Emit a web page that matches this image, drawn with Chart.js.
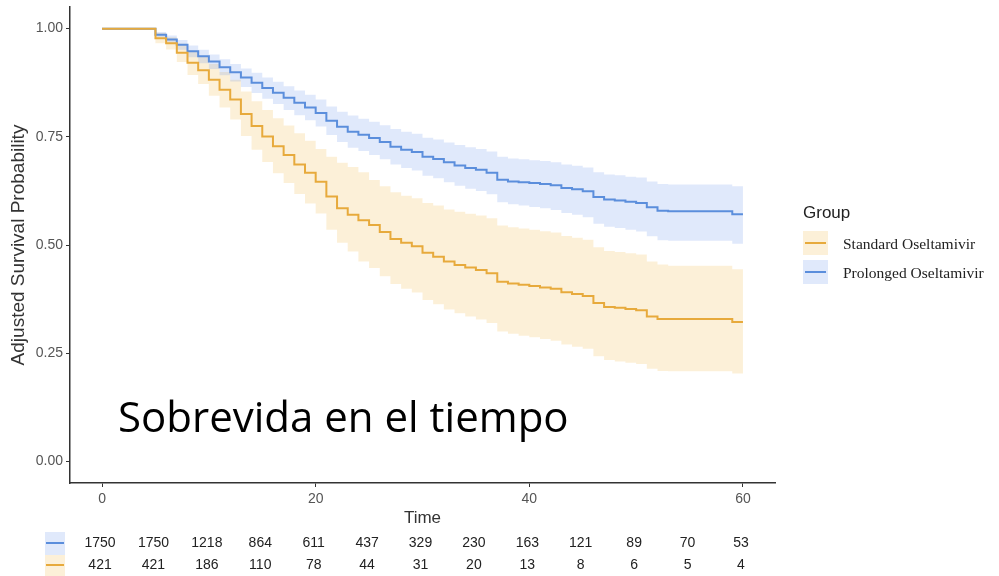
<!DOCTYPE html>
<html lang="es">
<head>
<meta charset="utf-8">
<title>Sobrevida en el tiempo</title>
<script src="https://cdn.jsdelivr.net/npm/chart.js@4.4.1/dist/chart.umd.min.js"></script>
<style>
  html, body { margin: 0; padding: 0; background: #fff; }
  #grafico { display: block; }
</style>
</head>
<body>
<canvas id="grafico" width="999" height="576"></canvas>
<script>
"use strict";
// Datos (tiempo 0, luego 5..60)
const tiempos = [0, 5, 6, 7, 8, 9, 10, 11, 12, 13, 14, 15, 16, 17, 18, 19, 20,
    21, 22, 23, 24, 25, 26, 27, 28, 29, 30, 31, 32, 33, 34, 35, 36, 37, 38, 39, 40,
    41, 42, 43, 44, 45, 46, 47, 48, 49, 50, 51, 52, 53, 54, 55, 56, 57, 58, 59, 60];

// Prolonged Oseltamivir
const prolongado = [1.000, 0.986, 0.975, 0.963, 0.948, 0.936, 0.924, 0.911, 0.899, 0.887, 0.875, 0.863, 0.852, 0.840, 0.829, 0.818, 0.805,
    0.787, 0.773, 0.762, 0.755, 0.747, 0.738, 0.727, 0.720, 0.715, 0.704, 0.699, 0.691, 0.684, 0.678, 0.674, 0.667, 0.651, 0.647, 0.645, 0.643,
    0.641, 0.638, 0.632, 0.629, 0.624, 0.611, 0.605, 0.603, 0.600, 0.597, 0.587, 0.579, 0.578, 0.578, 0.578, 0.578, 0.578, 0.578, 0.571, 0.571];
const prolongadoSup = [1.000, 0.992, 0.984, 0.974, 0.961, 0.951, 0.940, 0.929, 0.918, 0.908, 0.898, 0.887, 0.877, 0.867, 0.857, 0.847, 0.836,
    0.820, 0.808, 0.799, 0.792, 0.785, 0.777, 0.768, 0.762, 0.757, 0.748, 0.744, 0.737, 0.731, 0.726, 0.722, 0.716, 0.704, 0.700, 0.698, 0.696,
    0.694, 0.691, 0.686, 0.683, 0.679, 0.668, 0.663, 0.661, 0.658, 0.656, 0.647, 0.641, 0.640, 0.640, 0.640, 0.640, 0.640, 0.640, 0.636, 0.636];
const prolongadoInf = [1.000, 0.980, 0.966, 0.951, 0.934, 0.920, 0.907, 0.892, 0.878, 0.865, 0.851, 0.838, 0.826, 0.812, 0.800, 0.788, 0.774,
    0.754, 0.738, 0.725, 0.717, 0.708, 0.698, 0.686, 0.678, 0.672, 0.660, 0.654, 0.645, 0.637, 0.630, 0.625, 0.617, 0.599, 0.594, 0.591, 0.588,
    0.585, 0.581, 0.574, 0.570, 0.564, 0.549, 0.542, 0.539, 0.535, 0.531, 0.520, 0.511, 0.510, 0.510, 0.510, 0.510, 0.510, 0.510, 0.503, 0.503];

// Standard Oseltamivir
const estandar = [1.000, 0.978, 0.966, 0.944, 0.921, 0.904, 0.882, 0.859, 0.836, 0.803, 0.775, 0.751, 0.728, 0.708, 0.686, 0.667, 0.646,
    0.612, 0.585, 0.570, 0.557, 0.546, 0.530, 0.514, 0.505, 0.497, 0.482, 0.473, 0.462, 0.454, 0.448, 0.442, 0.435, 0.415, 0.411, 0.408, 0.405,
    0.402, 0.399, 0.391, 0.387, 0.382, 0.366, 0.357, 0.355, 0.352, 0.349, 0.335, 0.329, 0.329, 0.329, 0.329, 0.329, 0.329, 0.329, 0.322, 0.322];
const estandarSup = [1.000, 0.990, 0.980, 0.965, 0.948, 0.935, 0.918, 0.900, 0.882, 0.855, 0.832, 0.812, 0.793, 0.776, 0.758, 0.741, 0.722,
    0.704, 0.690, 0.680, 0.668, 0.650, 0.636, 0.622, 0.614, 0.608, 0.597, 0.591, 0.582, 0.577, 0.572, 0.568, 0.562, 0.545, 0.541, 0.538, 0.535,
    0.532, 0.529, 0.521, 0.517, 0.512, 0.495, 0.486, 0.484, 0.481, 0.478, 0.462, 0.455, 0.452, 0.452, 0.452, 0.452, 0.452, 0.452, 0.444, 0.444];
const estandarInf = [1.000, 0.966, 0.952, 0.923, 0.893, 0.872, 0.845, 0.818, 0.790, 0.752, 0.720, 0.692, 0.666, 0.643, 0.618, 0.596, 0.573,
    0.535, 0.505, 0.485, 0.462, 0.447, 0.428, 0.410, 0.399, 0.390, 0.373, 0.363, 0.351, 0.342, 0.335, 0.328, 0.320, 0.300, 0.295, 0.290, 0.287,
    0.283, 0.279, 0.270, 0.265, 0.260, 0.243, 0.234, 0.231, 0.228, 0.225, 0.214, 0.209, 0.208, 0.208, 0.208, 0.208, 0.208, 0.208, 0.203, 0.203];

// Tabla de riesgo
const tiemposRiesgo = [0, 5, 10, 15, 20, 25, 30, 35, 40, 45, 50, 55, 60];
const riesgoProlongado = [1750, 1750, 1218, 864, 611, 437, 329, 230, 163, 121, 89, 70, 53];
const riesgoEstandar = [421, 421, 186, 110, 78, 44, 31, 20, 13, 8, 6, 5, 4];

const ticksX = [0, 20, 40, 60];
const ticksY = [0, 0.25, 0.5, 0.75, 1];
const grupos = ["Standard Oseltamivir", "Prolonged Oseltamivir"];

const AZUL = "#5B8EDC";
const NARANJA = "#E7AA3C";
const AZUL_BANDA = "rgba(100,145,235,0.2)";
const NARANJA_BANDA = "rgba(240,180,60,0.2)";

function puntos(valores) {
    return tiempos.map((t, i) => ({ x: t, y: valores[i] }));
}

function serie(valores, color, extra) {
    return Object.assign({
        data: puntos(valores),
        stepped: "before",
        borderColor: color,
        borderWidth: 2,
        pointRadius: 0,
        fill: false
    }, extra || {});
}

// Texto extra: tabla de riesgo, leyenda y titulo de la diapositiva
const extras = {
    id: "extras",
    afterDraw(chart) {
        const ctx = chart.ctx;
        const x = chart.scales.x;
        ctx.save();

        // tabla de riesgo
        const filas = [
            { y: 543, datos: riesgoProlongado, color: AZUL, banda: AZUL_BANDA, top: 532, h: 23 },
            { y: 565, datos: riesgoEstandar, color: NARANJA, banda: NARANJA_BANDA, top: 555, h: 21 }
        ];
        ctx.font = "14px 'Liberation Sans', Arial, sans-serif";
        ctx.textAlign = "center";
        ctx.textBaseline = "middle";
        filas.forEach((f) => {
            ctx.fillStyle = f.banda;
            ctx.fillRect(45, f.top, 20, f.h);
            ctx.strokeStyle = f.color;
            ctx.lineWidth = 2;
            ctx.beginPath();
            ctx.moveTo(46, f.y);
            ctx.lineTo(64, f.y);
            ctx.stroke();
            ctx.fillStyle = "#222";
            f.datos.forEach((n, i) => {
                ctx.fillText(String(n), x.getPixelForValue(tiemposRiesgo[i]) - 2, f.y);
            });
        });

        // leyenda
        ctx.textAlign = "left";
        ctx.fillStyle = "#222";
        ctx.font = "17px 'Liberation Sans', Arial, sans-serif";
        ctx.fillText("Group", 803, 213);
        const claves = [
            { y: 243, top: 231, color: NARANJA, banda: NARANJA_BANDA, texto: grupos[0] },
            { y: 272, top: 260, color: AZUL, banda: AZUL_BANDA, texto: grupos[1] }
        ];
        ctx.font = "15.5px 'Liberation Serif', 'Times New Roman', serif";
        claves.forEach((c) => {
            ctx.fillStyle = c.banda;
            ctx.fillRect(803, c.top, 25, 24);
            ctx.strokeStyle = c.color;
            ctx.lineWidth = 2;
            ctx.beginPath();
            ctx.moveTo(805, c.y);
            ctx.lineTo(826, c.y);
            ctx.stroke();
            ctx.fillStyle = "#222";
            ctx.fillText(c.texto, 843, c.y + 2);
        });

        // titulo sobre el grafico
        ctx.fillStyle = "#000";
        ctx.font = "42px 'Open Sans', sans-serif";
        ctx.textBaseline = "alphabetic";
        ctx.fillText("Sobrevida en el tiempo", 118, 432);
        ctx.restore();
    }
};

const ctx = document.getElementById("grafico");
const grafico = new Chart(ctx, {
    type: "line",
    data: {
        datasets: [
            serie(estandar, NARANJA),
            serie(prolongado, AZUL),
            serie(prolongadoInf, "transparent", { borderWidth: 0 }),
            serie(prolongadoSup, "transparent", { borderWidth: 0, fill: "-1", backgroundColor: AZUL_BANDA }),
            serie(estandarInf, "transparent", { borderWidth: 0 }),
            serie(estandarSup, "transparent", { borderWidth: 0, fill: "-1", backgroundColor: NARANJA_BANDA })
        ]
    },
    options: {
        responsive: false,
        animation: false,
        layout: { padding: { left: 0, right: 224, top: 7, bottom: 0 } },
        plugins: {
            legend: { display: false },
            tooltip: { enabled: false }
        },
        scales: {
            x: {
                type: "linear",
                min: -3,
                max: 63,
                afterBuildTicks: (s) => { s.ticks = ticksX.map(v => ({ value: v })); },
                afterFit: (s) => { s.height = 93; s.paddingLeft = 0; s.paddingRight = 0; },
                grid: { drawOnChartArea: false, drawTicks: true, tickLength: 4, color: "#333", lineWidth: 1 },
                border: { display: true, color: "#333", width: 1.5 },
                ticks: {
                    padding: 4,
                    maxRotation: 0,
                    color: "#555",
                    font: { family: "'Liberation Sans', Arial, sans-serif", size: 14 },
                    callback: (v) => String(v)
                },
                title: {
                    display: true,
                    text: "Time",
                    color: "#333",
                    font: { family: "'Liberation Sans', Arial, sans-serif", size: 17 },
                    padding: { top: 0, bottom: 47 }
                }
            },
            y: {
                type: "linear",
                min: -0.05,
                max: 1.05,
                afterBuildTicks: (s) => { s.ticks = ticksY.map(v => ({ value: v })); },
                afterFit: (s) => { s.width = 70; s.paddingTop = 0; s.paddingBottom = 0; },
                grid: { drawOnChartArea: false, drawTicks: true, tickLength: 4, color: "#333", lineWidth: 1 },
                border: { display: true, color: "#333", width: 1.5 },
                ticks: {
                    padding: 3,
                    color: "#555",
                    font: { family: "'Liberation Sans', Arial, sans-serif", size: 14 },
                    callback: (v) => v.toFixed(2)
                },
                title: {
                    display: true,
                    text: "Adjusted Survival Probability",
                    color: "#333",
                    font: { family: "'Liberation Sans', Arial, sans-serif", size: 19 },
                    padding: { top: 7, bottom: 0 }
                }
            }
        }
    },
    plugins: [extras]
});
</script>
</body>
</html>
